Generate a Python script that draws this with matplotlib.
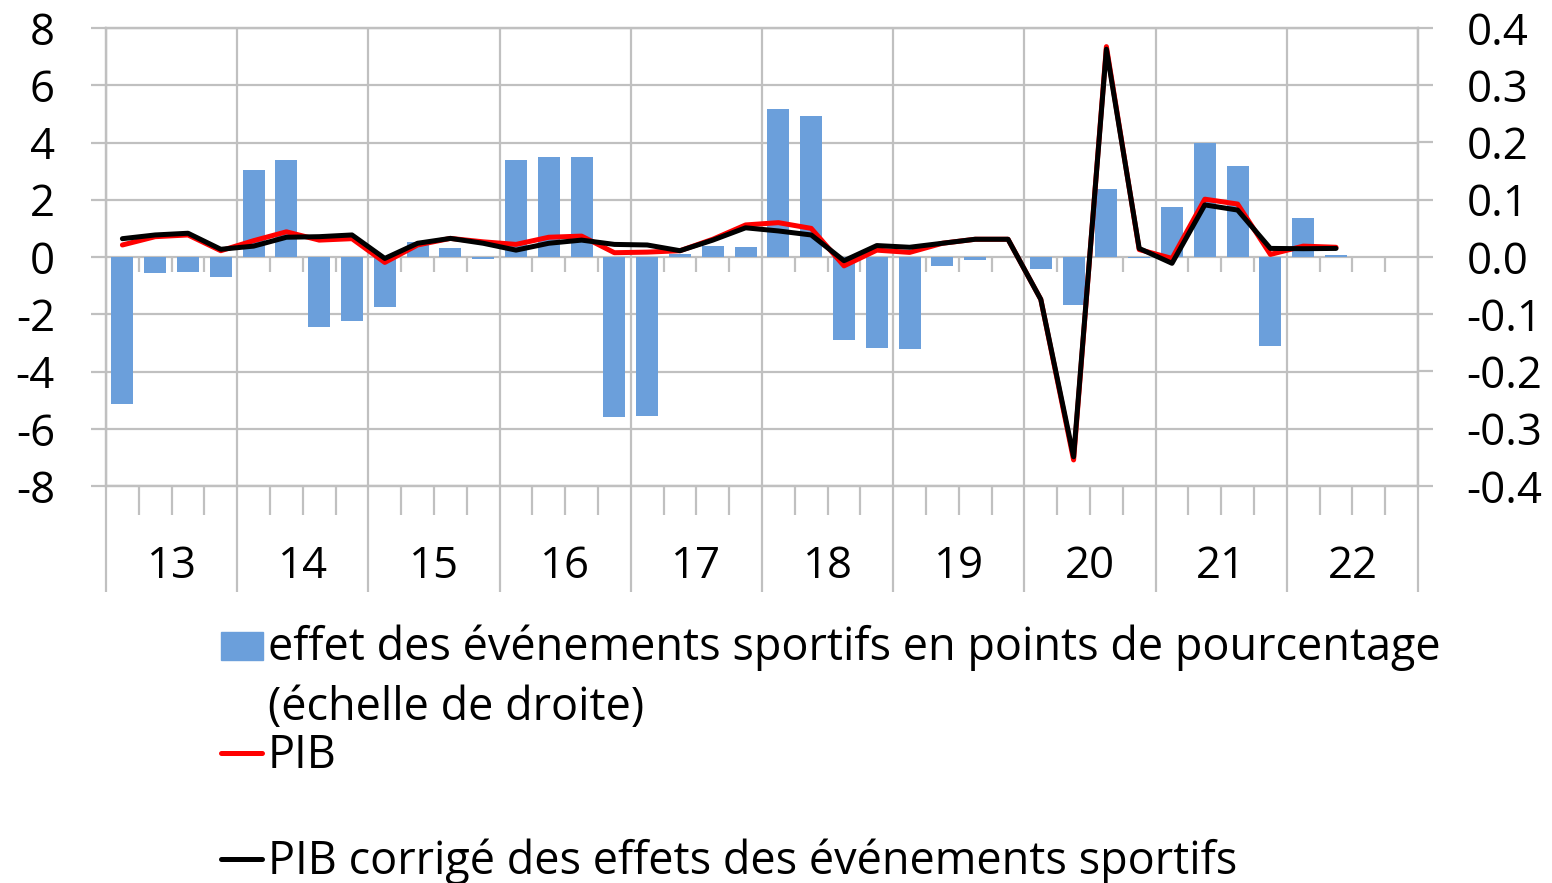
import numpy as np
import matplotlib
matplotlib.use("Agg")
import matplotlib.pyplot as plt
from matplotlib.patches import Rectangle
from matplotlib.lines import Line2D
from matplotlib.ticker import FixedLocator, FuncFormatter

plt.rcParams['font.family'] = ['Open Sans', 'DejaVu Sans']
plt.rcParams['axes.unicode_minus'] = False

# ---------------- data ----------------
years = ['13', '14', '15', '16', '17', '18', '19', '20', '21', '22']
n_quarters = 40

# effect of sporting events (percentage points, right scale), 2013Q1 .. 2022Q2
effet_sport = [-0.257, -0.028, -0.026, -0.035,
               0.152, 0.169, -0.122, -0.111,
               -0.087, 0.026, 0.016, -0.004,
               0.169, 0.174, 0.174, -0.280,
               -0.278, 0.006, 0.019, 0.017,
               0.258, 0.246, -0.145, -0.159,
               -0.161, -0.015, -0.006, 0.0,
               -0.021, -0.084, 0.119, -0.002,
               0.087, 0.199, 0.159, -0.155,
               0.068, 0.004]

# GDP growth (left scale)
pib = [0.42, 0.71, 0.77, 0.22,
       0.57, 0.88, 0.59, 0.64,
       -0.19, 0.42, 0.65, 0.53,
       0.44, 0.69, 0.73, 0.15,
       0.17, 0.22, 0.62, 1.12,
       1.20, 1.00, -0.31, 0.24,
       0.16, 0.48, 0.62, 0.62,
       -1.48, -7.09, 7.35, 0.26,
       -0.05, 2.02, 1.85, 0.09,
       0.38, 0.34]

# GDP corrected for sporting events (left scale)
pib_corrige = [0.64, 0.77, 0.83, 0.27,
               0.38, 0.69, 0.71, 0.77,
               -0.05, 0.48, 0.65, 0.48,
               0.24, 0.48, 0.59, 0.44,
               0.42, 0.22, 0.59, 1.02,
               0.91, 0.77, -0.13, 0.40,
               0.34, 0.48, 0.62, 0.62,
               -1.48, -6.98, 7.26, 0.30,
               -0.22, 1.82, 1.64, 0.30,
               0.29, 0.30]

legend_labels = ['effet des événements sportifs en points de pourcentage',
                 '(échelle de droite)',
                 'PIB',
                 'PIB corrigé des effets des événements sportifs']

# ---------------- styling ----------------
W, H = 1552, 883
GRID = '#C0C0C0'
BAR = '#6B9FDB'
GLW = 1.6
FS = 31.5
LEG_FS = 32.4
LW = 3.6

fig = plt.figure(figsize=(W / 100, H / 100), dpi=100)
L, R, T, B = 106, 1418, 28, 486
ax = fig.add_axes([L / W, 1 - B / H, (R - L) / W, (B - T) / H])

xq = np.arange(n_quarters)
year_bounds = np.arange(len(years) + 1) * 4 - 0.5
quarter_bounds = np.arange(n_quarters + 1) - 0.5
year_centers = year_bounds[:-1] + 2

ax.set_xlim(-0.5, n_quarters - 0.5)
ax.set_ylim(-8, 8)
ax.set_yticks(np.arange(-8, 9, 2))
ax.yaxis.set_major_formatter(FuncFormatter(lambda v, p: f'{v:.0f}'))
ax.grid(True, axis='both', color=GRID, lw=GLW, zorder=0)
ax.set_axisbelow(True)

# year boundaries as major ticks (long separators), labels at year centres
ax.xaxis.set_major_locator(FixedLocator(year_bounds))
ax.xaxis.set_major_formatter(FuncFormatter(lambda v, p: ''))
ax.xaxis.set_minor_locator(FixedLocator(year_centers))
ax.set_xticklabels(years, minor=True)
ax.tick_params(axis='x', which='major', length=106 * 0.72, width=GLW, color=GRID)
ax.tick_params(axis='x', which='minor', length=0, pad=42, labelsize=FS)
ax.tick_params(axis='y', length=15 * 0.72, width=GLW, color=GRID, pad=26, labelsize=FS)
for s in ax.spines.values():
    s.set_color(GRID)
    s.set_linewidth(GLW)

# quarter ticks at bottom axis
qb = [q for q in quarter_bounds if q not in year_bounds]
ax.plot(qb, np.full(len(qb), -8.0), ls='none', marker=3, ms=29 * 0.72, mew=GLW,
        color=GRID, clip_on=False, zorder=1)

# right axis with bars
ax2 = ax.twinx()
ax2.set_ylim(-0.4, 0.4)
ax2.set_yticks(np.round(np.arange(-0.4, 0.41, 0.1), 1))
ax2.yaxis.set_major_formatter(FuncFormatter(lambda v, p: f'{round(v, 1) + 0.0:.1f}'))
ax2.tick_params(axis='y', length=15 * 0.72, width=GLW, color=GRID, pad=24, labelsize=FS)
for s in ax2.spines.values():
    s.set_color(GRID)
    s.set_linewidth(GLW)
ax2.bar(xq[:len(effet_sport)], effet_sport, width=0.67, color=BAR, zorder=2)
# quarter ticks on the zero line (secondary horizontal axis)
ax2.plot(qb, np.zeros(len(qb)), ls='none', marker=3, ms=15 * 0.72, mew=GLW,
         color=GRID, zorder=1)

# lines on left scale, above bars
ax3 = ax.twinx()
ax3.set_ylim(ax.get_ylim())
ax3.axis('off')
ax3.plot(xq[:len(pib)], pib, color='#FF0000', lw=LW, solid_joinstyle='round',
         solid_capstyle='round')
ax3.plot(xq[:len(pib_corrige)], pib_corrige, color='black', lw=LW,
         solid_joinstyle='round', solid_capstyle='round')


# ---------------- legend (manual, figure pixel coordinates) ----------------
def fx(px):
    return px / W


def fy(py):
    return 1 - py / H


fig.patches.append(Rectangle((fx(221), fy(660)), fx(263) - fx(221), fy(632) - fy(660),
                             transform=fig.transFigure, color=BAR))
fig.text(fx(268), fy(660), legend_labels[0], fontsize=LEG_FS, va='baseline', ha='left')
fig.text(fx(268), fy(720), legend_labels[1], fontsize=LEG_FS, va='baseline', ha='left')
fig.lines.append(Line2D([fx(221), fx(262)], [fy(753), fy(753)], transform=fig.transFigure,
                        color='#FF0000', lw=LW, solid_capstyle='round'))
fig.text(fx(268), fy(768), legend_labels[2], fontsize=LEG_FS, va='baseline', ha='left')
fig.lines.append(Line2D([fx(221), fx(262)], [fy(859), fy(859)], transform=fig.transFigure,
                        color='black', lw=LW, solid_capstyle='round'))
fig.text(fx(268), fy(874), legend_labels[3], fontsize=LEG_FS, va='baseline', ha='left')

fig.savefig('out.png', dpi=100)
